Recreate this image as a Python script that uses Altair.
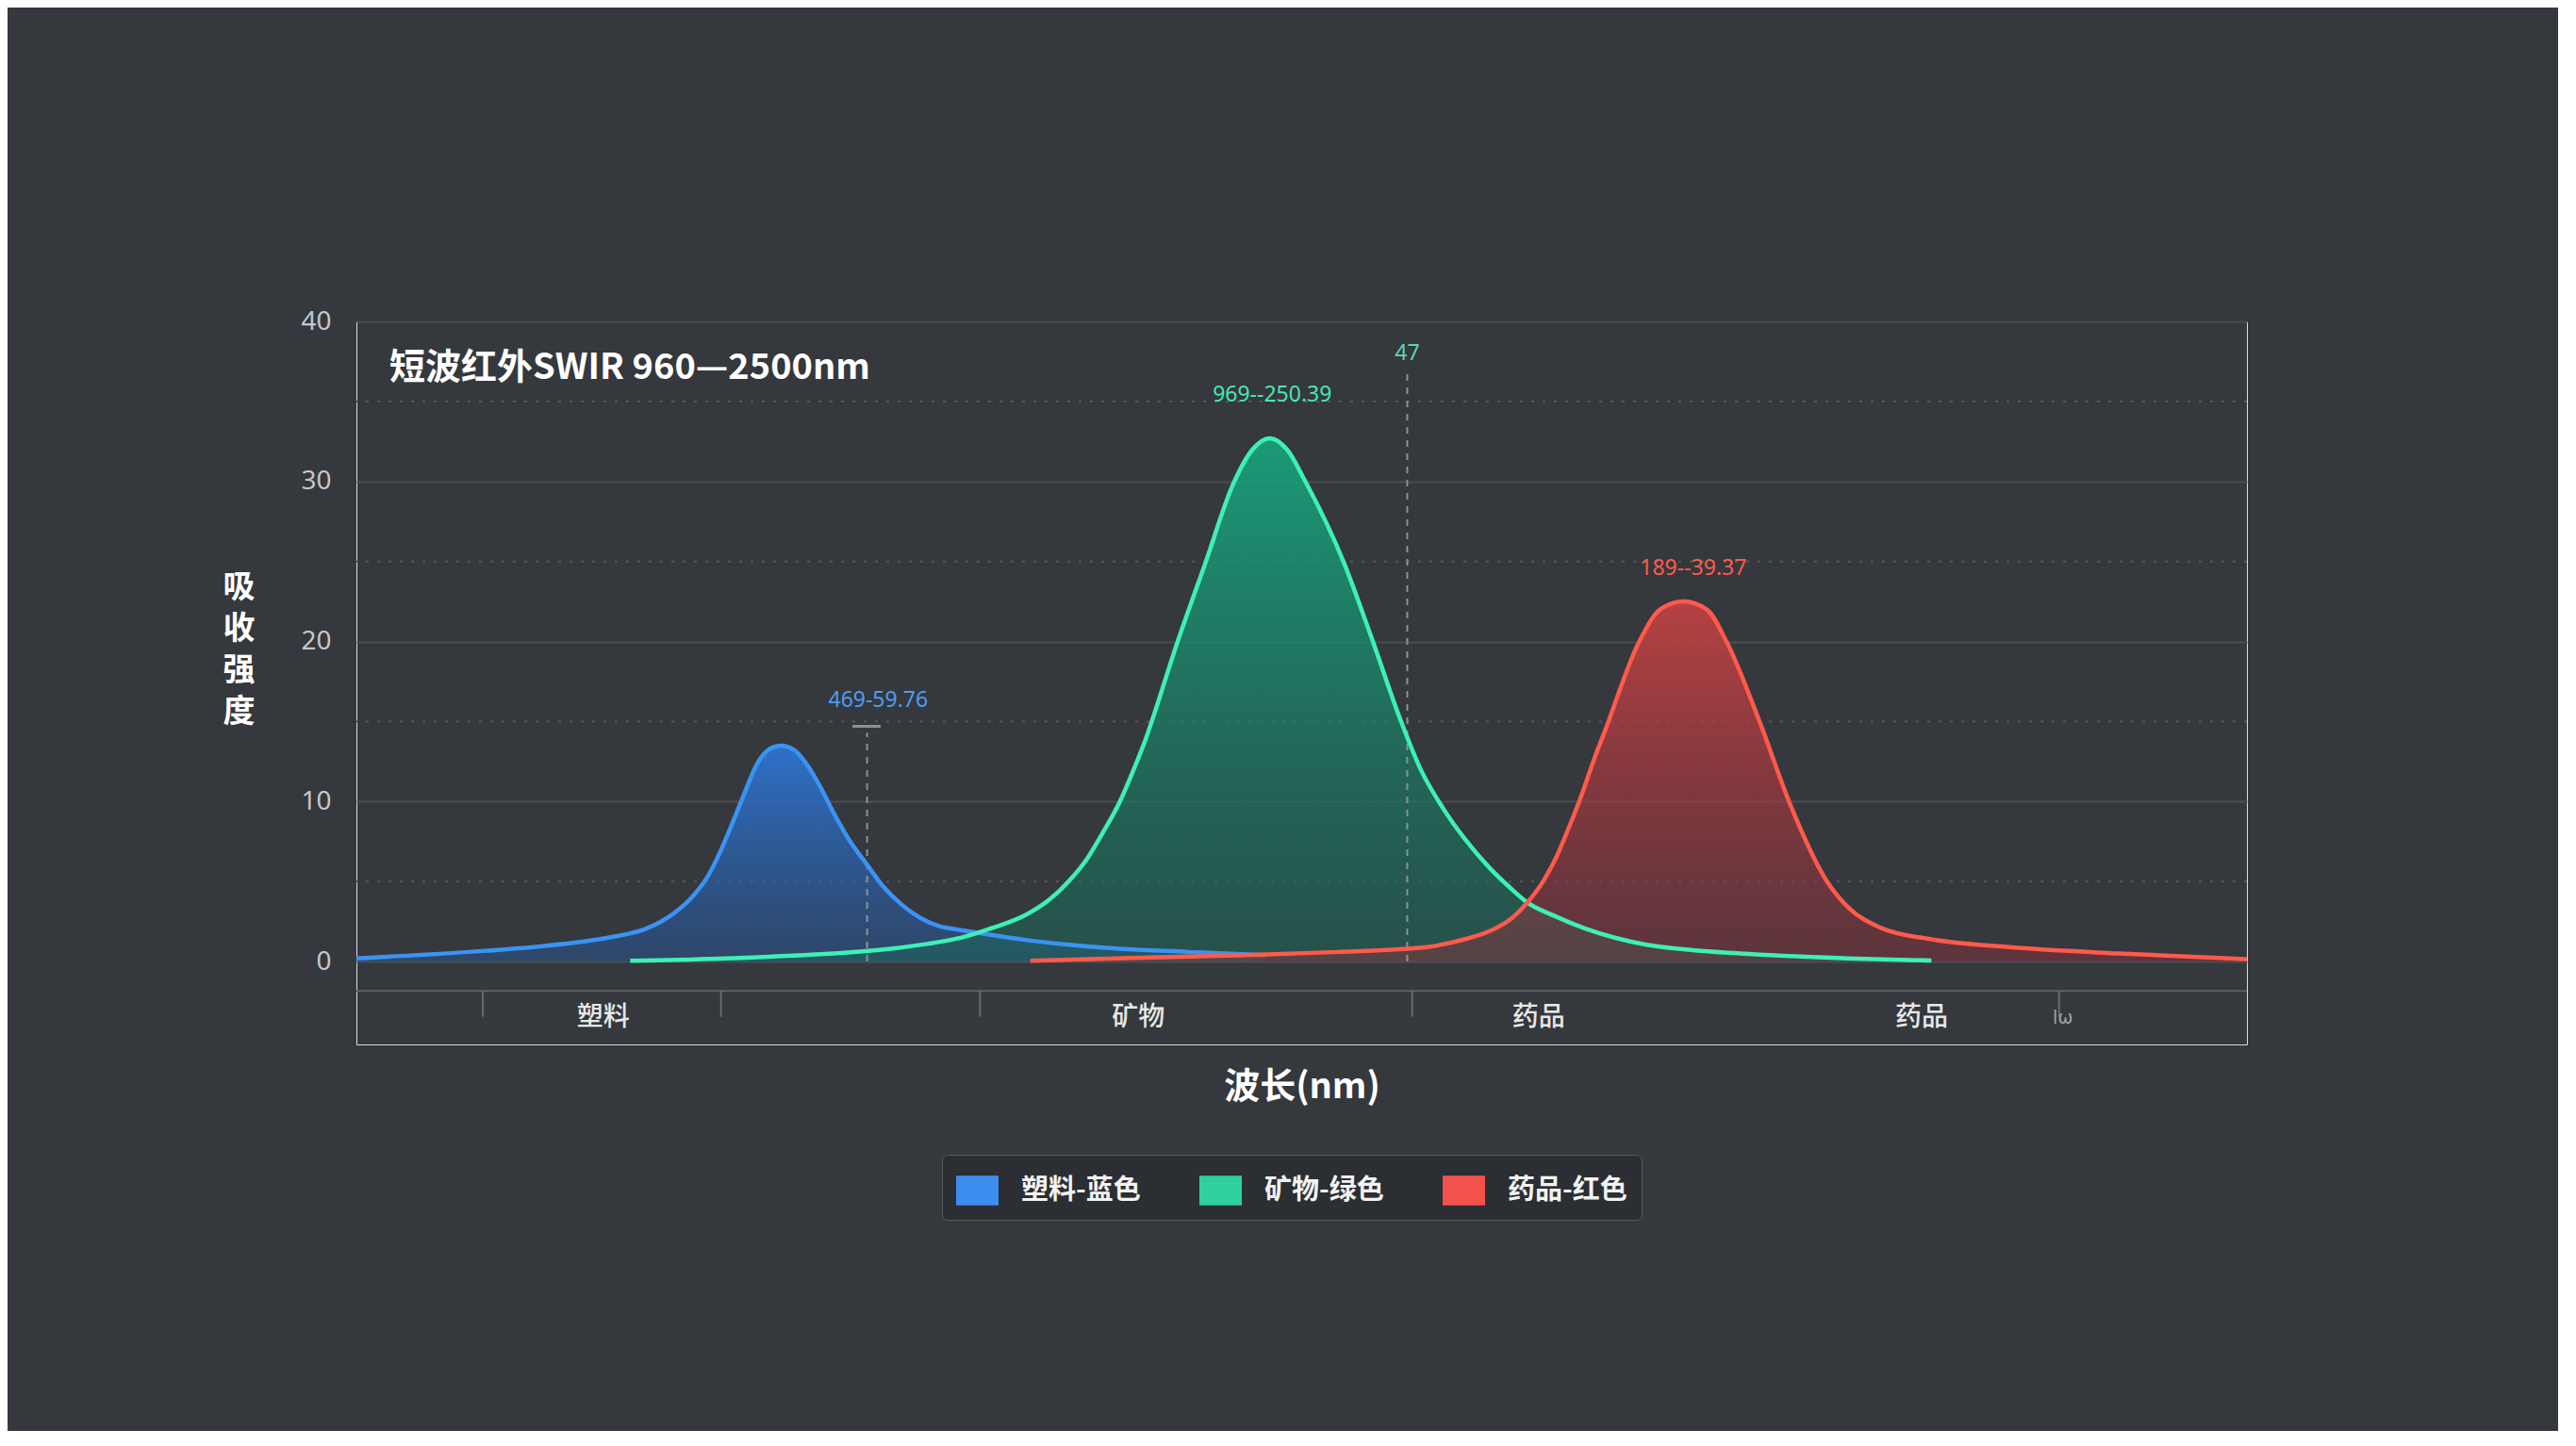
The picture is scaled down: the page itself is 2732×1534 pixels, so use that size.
import altair as alt
import pandas as pd

# ---------------- data ----------------
series = ["塑料", "矿物", "药品"]
legend_labels = ["塑料-蓝色", "矿物-绿色", "药品-红色"]

blue_nm = [960, 1051, 1110, 1145, 1169, 1194, 1207, 1220, 1233, 1246, 1256, 1266,
           1276, 1286, 1297, 1306, 1317, 1328, 1338, 1348, 1361, 1376, 1389, 1405,
           1420, 1435, 1450, 1478, 1505, 1555, 1637, 1700]
blue_val = [0.2, 0.6, 0.95, 1.25, 1.55, 2.0, 2.45, 3.1, 4.0, 5.3, 6.8, 8.6,
            10.5, 12.3, 13.3, 13.5, 13.2, 12.2, 10.9, 9.4, 7.65, 6.05, 4.7, 3.5,
            2.7, 2.2, 2.0, 1.65, 1.35, 0.95, 0.6, 0.4]

green_nm = [1183, 1296, 1395, 1425, 1453, 1478, 1505, 1525, 1540, 1555, 1568, 1581,
            1591, 1601, 1629, 1652, 1674, 1690, 1704, 1718, 1733, 1764, 1788, 1811,
            1827, 1845, 1863, 1883, 1899, 1914, 1935, 1960, 1985, 2011, 2037, 2087,
            2175, 2243]
green_val = [0.05, 0.3, 0.8, 1.1, 1.5, 2.1, 2.9, 3.9, 5.0, 6.4, 8.05, 9.85,
             11.6, 13.5, 20.0, 25.0, 29.8, 32.0, 32.7, 32.0, 30.0, 25.0, 20.0, 15.0,
             12.0, 9.6, 7.65, 5.86, 4.67, 3.68, 2.88, 2.09, 1.49, 1.05, 0.8, 0.5,
             0.2, 0.06]

red_nm = [1509, 1606, 1685, 1760, 1806, 1832, 1858, 1883, 1901, 1914, 1927, 1937,
          1947, 1958, 1968, 1977, 2005, 2022, 2041, 2060, 2076, 2103, 2127, 2158,
          2175, 2202, 2242, 2307, 2396, 2500]
red_val = [0.05, 0.25, 0.4, 0.6, 0.75, 0.9, 1.3, 1.9, 2.7, 3.7, 5.05, 6.45,
           8.25, 10.4, 12.6, 14.4, 20.0, 22.0, 22.5, 22.0, 20.0, 15.0, 10.0, 5.0,
           3.4, 2.1, 1.4, 0.9, 0.5, 0.15]

y_ticks = [0, 10, 20, 30, 40]
y_dotted = [5, 15, 25, 35]

x_tick_nm = [1063, 1257, 1468, 1820, 2347]
cat_nm = [1161, 1597, 1923, 2235]
cat_text = ["塑料", "矿物", "药品", "药品"]
odd_nm = [2350]
odd_text = ["lω"]

ann_text = ["469-59.76", "969--250.39", "47", "189--39.37"]
ann_nm = [1385, 1706, 1816, 2049]
ann_val = [16.3, 35.4, 38.0, 24.55]

guide_nm = [1376, 1816]
guide_top = [14.3, 36.7]
cap_from = [1364]
cap_to = [1387]
cap_val = [14.7]

axis_base = [-1.83]
tick_low = [-3.45]
cat_val = [-3.55]
y_min = -5.18

# ---------------- styling ----------------
FONT = "Noto Sans CJK SC"
line_colors = ["#3b93f3", "#3ef0b6", "#ff5a4b"]
legend_colors = ["#3b8df0", "#2fd0a0", "#f4524d"]
ann_colors = ["#4b9df5", "#45e6b5", "#5fd3b5", "#ff5b4d"]
area_grad = [
    ("rgba(46,118,214,0.92)", "rgba(38,88,160,0.45)"),
    ("rgba(24,165,125,0.90)", "rgba(24,105,88,0.50)"),
    ("rgba(196,66,66,0.90)", "rgba(140,48,60,0.45)"),
]
INTERP = "monotone"

curves = pd.concat([
    pd.DataFrame({"series": series[0], "nm": blue_nm, "val": blue_val}),
    pd.DataFrame({"series": series[1], "nm": green_nm, "val": green_val}),
    pd.DataFrame({"series": series[2], "nm": red_nm, "val": red_val}),
], ignore_index=True)

xs = alt.Scale(domain=[960, 2500], nice=False, zero=False)
ys = alt.Scale(domain=[y_min, 40], nice=False, zero=False)

x_axis = alt.Axis(title="波长(nm)", labels=False, ticks=False, domain=False, grid=False,
                  titleFontSize=38, titleFontWeight="bold", titleColor="#ffffff",
                  titleFont=FONT, titleY=45, titleBaseline="middle")
y_axis = alt.Axis(values=y_ticks, title=["吸", "收", "强", "度"], grid=True,
                  gridColor="#4a4e53", gridWidth=2, domain=False, ticks=False,
                  labelColor="#c3c7cb", labelFontSize=28, labelFont="Noto Sans",
                  labelPadding=27, titleAngle=0, titleX=-125, titleY=282,
                  titleAlign="center", titleBaseline="middle", titleFontSize=34,
                  titleFontWeight="bold", titleColor="#ffffff", titleFont=FONT,
                  titleLineHeight=44)


def X(f):
    return alt.X(f, type="quantitative", scale=xs, axis=x_axis)


def Y(f):
    return alt.Y(f, type="quantitative", scale=ys, axis=y_axis)


layers = []

# dotted half-grid
layers.append(
    alt.Chart(pd.DataFrame({"y": y_dotted}))
    .mark_rule(strokeDash=[3, 9], color="#55595e", strokeWidth=2)
    .encode(y=Y("y"))
)

# areas
for s, (c0, c1) in zip(series, area_grad):
    grad = alt.LinearGradient(gradient="linear", x1=0, y1=0, x2=0, y2=1,
                              stops=[alt.GradientStop(color=c0, offset=0),
                                     alt.GradientStop(color=c1, offset=1)])
    layers.append(
        alt.Chart(curves).transform_filter(alt.datum.series == s)
        .mark_area(interpolate=INTERP, color=grad)
        .encode(x=X("nm"), y=Y("val"), y2=alt.datum(0))
    )

# dashed guides
layers.append(
    alt.Chart(pd.DataFrame({"nm": guide_nm, "bottom": [0, 0], "top": guide_top}))
    .mark_rule(strokeDash=[7, 7], color="#8b9197", strokeWidth=2)
    .encode(x=X("nm"), y=Y("bottom"), y2=alt.Y2("top"))
)
layers.append(
    alt.Chart(pd.DataFrame({"a": cap_from, "b": cap_to, "y": cap_val}))
    .mark_rule(color="#8b9197", strokeWidth=3)
    .encode(x=X("a"), x2=alt.X2("b"), y=Y("y"))
)

# lines
layers.append(
    alt.Chart(curves)
    .mark_line(interpolate=INTERP, strokeWidth=4.5)
    .encode(x=X("nm"), y=Y("val"),
            color=alt.Color("series:N", scale=alt.Scale(domain=series, range=line_colors),
                            legend=None))
)

# annotations
for t, xv, yv, c in zip(ann_text, ann_nm, ann_val, ann_colors):
    layers.append(
        alt.Chart(pd.DataFrame({"nm": [xv], "y": [yv], "t": [t]}))
        .mark_text(fontSize=23, color=c, font="Noto Sans", baseline="middle", align="center")
        .encode(x=X("nm"), y=Y("y"), text="t:N")
    )

# category band: base line, ticks, labels
layers.append(
    alt.Chart(pd.DataFrame({"y": axis_base}))
    .mark_rule(color="#5d6166", strokeWidth=2)
    .encode(y=Y("y"))
)
layers.append(
    alt.Chart(pd.DataFrame({"nm": x_tick_nm, "hi": axis_base * 5, "lo": tick_low * 5}))
    .mark_rule(color="#676b70", strokeWidth=2)
    .encode(x=X("nm"), y=Y("hi"), y2=alt.Y2("lo"))
)
layers.append(
    alt.Chart(pd.DataFrame({"nm": cat_nm, "y": cat_val * 4, "t": cat_text}))
    .mark_text(fontSize=28, fontWeight=500, color="#e8e8e8", font=FONT, baseline="middle")
    .encode(x=X("nm"), y=Y("y"), text="t:N")
)
layers.append(
    alt.Chart(pd.DataFrame({"nm": odd_nm, "y": cat_val, "t": odd_text}))
    .mark_text(fontSize=19, color="#9ea3a8", font="DejaVu Sans", baseline="middle")
    .encode(x=X("nm"), y=Y("y"), text="t:N")
)

# legend
layers.append(
    alt.Chart(pd.DataFrame({"legend": legend_labels}))
    .transform_filter("false")
    .mark_square(opacity=1)
    .encode(color=alt.Color(
        "legend:N",
        scale=alt.Scale(domain=legend_labels, range=legend_colors),
        legend=alt.Legend(orient="none", legendX=621, legendY=884, direction="horizontal",
                          title=None, symbolType="M-1,-0.7H1V0.7H-1Z", symbolSize=2025,
                          symbolStrokeWidth=0, symbolOpacity=1,
                          labelFont=FONT, labelFontSize=29, labelFontWeight="bold",
                          labelColor="#f2f2f2", labelOffset=24, columnPadding=62,
                          padding=15, strokeColor="#585c61", fillColor="#2b2e32",
                          cornerRadius=6)))
)

chart = (
    alt.layer(*layers)
    .resolve_scale(color="independent")
    .properties(
        width=2005, height=767,
        padding={"left": 370, "top": 333, "right": 330, "bottom": 410},
        autosize=alt.AutoSizeParams(type="none"),
        background="#35383c",
        title=alt.TitleParams(text="短波红外SWIR 960—2500nm", anchor="start", frame="group",
                              orient="top", dx=35, dy=102, offset=0, baseline="middle",
                              fontSize=38, fontWeight="bold", color="#ffffff", font=FONT),
    )
    .configure_view(stroke="#575b60", strokeWidth=2)
    .configure(font=FONT)
)

chart.save("out.html", embed_options={"renderer": "svg", "actions": False})
